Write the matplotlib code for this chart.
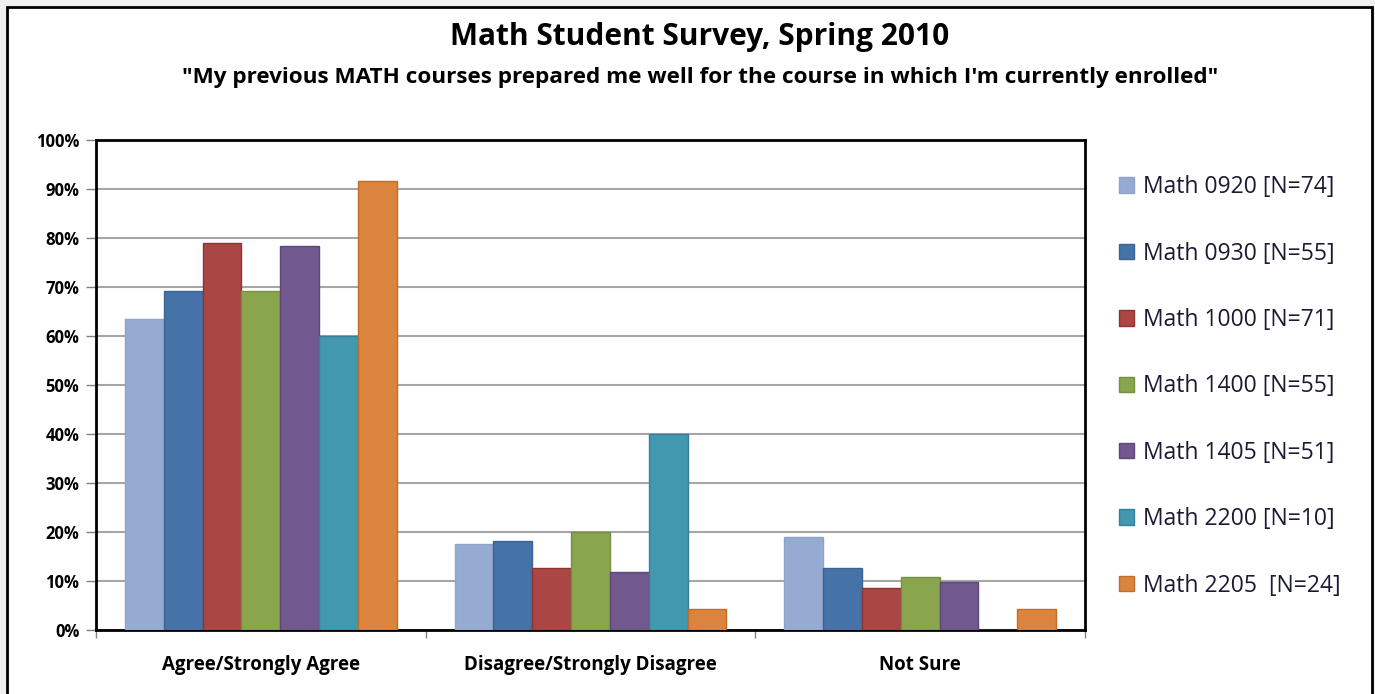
import matplotlib.pyplot as plt
import matplotlib.patches as patches
import numpy as np
from matplotlib.ticker import FuncFormatter

CATEGORIES = ['Agree/Strongly Agree', 'Disagree/Strongly Disagree', 'Not Sure']
COURSES = ['Math 0920 [N=74]', 'Math 0930 [N=55]', 'Math 1000 [N=71]',
           'Math 1400 [N=55]', 'Math 1405 [N=51]', 'Math 2200 [N=10]',
           'Math 2205  [N=24]']

MATH_0920 = [63.5, 17.6, 18.9]
MATH_0930 = [69.1, 18.2, 12.7]
MATH_1000 = [78.9, 12.7, 8.5]
MATH_1400 = [69.1, 20.0, 10.9]
MATH_1405 = [78.4, 11.8, 9.8]
MATH_2200 = [60.0, 40.0, 0.0]
MATH_2205 = [91.7, 4.2, 4.2]

SERIES = [MATH_0920, MATH_0930, MATH_1000, MATH_1400, MATH_1405, MATH_2200, MATH_2205]
FILLS = ['#95abd1', '#4572a7', '#aa4643', '#89a54e', '#71588f', '#4198af', '#db843d']
EDGES = ['#8fa3c6', '#3b6393', '#8e3331', '#769040', '#5d4776', '#34809a', '#c06d2a']

plt.rcParams['font.family'] = ['Open Sans', 'DejaVu Sans']

fig = plt.figure(figsize=(13.75, 6.94), dpi=100, facecolor='#f0f0f0')

# chart frame, behind everything
frame = patches.Rectangle((7 / 1375, -0.05), (1372 - 7) / 1375, 1.05 - 7 / 694,
                          transform=fig.transFigure, facecolor='white',
                          edgecolor='black', linewidth=2, zorder=-10)
fig.patches.append(frame)

ax = fig.add_axes([96 / 1375, 1 - 630 / 694, (1085 - 96) / 1375, (630 - 140) / 694])
ax.set_zorder(5)
ax.set_facecolor('white')

x = np.arange(len(CATEGORIES))
w = 0.824 / len(SERIES)
for i, vals in enumerate(SERIES):
    ax.bar(x - 0.412 + w * (i + 0.5), vals, w, color=FILLS[i], edgecolor=EDGES[i],
           linewidth=1, label=COURSES[i], zorder=3)

ax.set_xlim(-0.5, 2.5)
ax.set_ylim(0, 100)
ax.set_yticks(range(0, 101, 10))
ax.yaxis.set_major_formatter(FuncFormatter(lambda v, p: '%d%%' % v))
ax.yaxis.grid(True, color='#a6a6a6', linewidth=1.5, zorder=0)
ax.set_axisbelow(True)

ax.set_xticks(x)
ax.set_xticklabels(CATEGORIES, fontsize=13.5, fontweight='bold')
ax.tick_params(axis='x', length=0, pad=18)
ax.set_xticks([-0.5, 0.5, 1.5, 2.5], minor=True)
ax.tick_params(axis='x', which='minor', length=6, color='#808080', width=1)
ax.tick_params(axis='y', length=7, color='#808080', width=1, labelsize=12, pad=5)
for lbl in ax.get_yticklabels():
    lbl.set_fontweight('bold')

for sp in ax.spines.values():
    sp.set_linewidth(2)
    sp.set_color('black')

fig.text(0.509, 1 - 37 / 694, 'Math Student Survey, Spring 2010', ha='center', va='center',
         fontsize=21.5, fontweight='bold')
fig.text(0.509, 1 - 77 / 694,
         '"My previous MATH courses prepared me well for the course in which I\'m currently enrolled"',
         ha='center', va='center', fontsize=16.2, fontweight='bold')

leg = ax.legend(loc='upper left', bbox_to_anchor=(1.025, 0.947), frameon=False,
                fontsize=16.5, handlelength=0.65, handleheight=0.65, handletextpad=0.4,
                labelspacing=1.85, borderaxespad=0)
for t in leg.get_texts():
    t.set_color('#1a1a33')

fig.savefig('out.png', dpi=100, facecolor=fig.get_facecolor())
